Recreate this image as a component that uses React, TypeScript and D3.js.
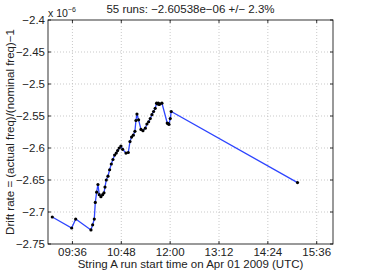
import React from "react";
import * as d3 from "d3";

// minutes after 09:00 on Apr 01 2009
const runMinutes = [6.3, 34.9, 40.8, 63.3, 65.8, 68.2, 69.7, 71.7, 73.6, 75.6, 78, 80.5, 82.5, 84, 85.9, 88.4, 90.8, 93.3, 95.7, 98.2, 100.6, 102.6, 105, 107.5, 110, 114.9, 118.3, 120.8, 123.2, 125.7, 128.1, 129.6, 131.1, 133.5, 137, 139.9, 143.4, 145.8, 148.3, 150.7, 153.2, 155.6, 158, 160, 161.2, 162.5, 163.8, 165, 167.9, 175.7, 177, 178.2, 180.2, 181.6, 367.7];
const driftRate = [-2.7078, -2.725, -2.711, -2.728, -2.72, -2.711, -2.685, -2.669, -2.657, -2.673, -2.676, -2.673, -2.67, -2.661, -2.65, -2.644, -2.634, -2.625, -2.618, -2.611, -2.608, -2.604, -2.6, -2.597, -2.602, -2.608, -2.607, -2.59, -2.583, -2.58, -2.574, -2.557, -2.547, -2.556, -2.571, -2.573, -2.569, -2.5625, -2.559, -2.554, -2.548, -2.543, -2.538, -2.53, -2.531, -2.53, -2.532, -2.531, -2.53, -2.561, -2.562, -2.563, -2.554, -2.543, -2.654];
const yTicks = [-2.4, -2.45, -2.5, -2.55, -2.6, -2.65, -2.7, -2.75];
const xTickMinutes = [36, 108, 180, 252, 324, 396];
const xTickLabels = ["09:36", "10:48", "12:00", "13:12", "14:24", "15:36"];
const titleText = "55 runs: \u22122.60538e\u221206 +/\u2212 2.3%";
const xLabelText = "String A run start time on Apr 01 2009 (UTC)";
const yLabelText = "Drift rate = (actual freq)/(nominal freq)\u22121";

export default function App() {
  const W = 368, H = 277;
  const L = 48, R = 333, T = 20, B = 244;
  const x = d3.scaleLinear().domain([0, 420]).range([L, R]);
  const y = d3.scaleLinear().domain([-2.75, -2.4]).range([B, T]);
  const pts = runMinutes.map((m, i) => [m, driftRate[i]] as [number, number]);
  const line = d3.line<[number, number]>().x(d => x(d[0])).y(d => y(d[1]));
  const font = "'Liberation Sans', Arial, Helvetica, sans-serif";
  const fmt = (v: number) => v.toString().replace("-", "\u2212");
  const fs = 11.5;
  return (
    <svg width={W} height={H} style={{ position: "absolute", left: 0, top: 0, background: "#fff" }} fontFamily={font}>
      <rect x={0} y={0} width={W} height={H} fill="#fff" />
      {/* grid */}
      {xTickMinutes.map((m, i) => (
        <line key={"gx" + i} x1={x(m)} x2={x(m)} y1={T} y2={B} stroke="#bbb" strokeWidth={0.8} strokeDasharray="1,2" />
      ))}
      {yTicks.slice(1, -1).map((v, i) => (
        <line key={"gy" + i} x1={L} x2={R} y1={y(v)} y2={y(v)} stroke="#bbb" strokeWidth={0.8} strokeDasharray="1,2" />
      ))}
      {/* ticks */}
      {xTickMinutes.map((m, i) => (
        <g key={"tx" + i}>
          <line x1={x(m)} x2={x(m)} y1={B} y2={B - 3} stroke="#000" strokeWidth={0.8} />
          <line x1={x(m)} x2={x(m)} y1={T} y2={T + 3} stroke="#000" strokeWidth={0.8} />
          <text x={x(m)} y={B + 12} fontSize={fs} textAnchor="middle" fill="#222">{xTickLabels[i]}</text>
        </g>
      ))}
      {yTicks.map((v, i) => (
        <g key={"ty" + i}>
          <line x1={L} x2={L + 3} y1={y(v)} y2={y(v)} stroke="#000" strokeWidth={0.8} />
          <line x1={R} x2={R - 3} y1={y(v)} y2={y(v)} stroke="#000" strokeWidth={0.8} />
          <text x={L - 3} y={y(v) + 4} fontSize={fs} textAnchor="end" fill="#222">{fmt(v)}</text>
        </g>
      ))}
      <rect x={L} y={T} width={R - L} height={B - T} fill="none" stroke="#000" strokeWidth={0.8} />
      {/* data */}
      <path d={line(pts) || ""} fill="none" stroke="#2e45ff" strokeWidth={1.3} />
      {pts.map((p, i) => (
        <circle key={"p" + i} cx={x(p[0])} cy={y(p[1])} r={1.6} fill="#000" />
      ))}
      {/* texts */}
      <text x={L} y={T - 3} fontSize={10.5} fill="#222">x 10<tspan dy={-5} fontSize={7}>{"\u22126"}</tspan></text>
      <text x={(L + R) / 2} y={13} fontSize={fs} textAnchor="middle" fill="#222">{titleText}</text>
      <text x={(L + R) / 2} y={268} fontSize={fs} textAnchor="middle" fill="#222">{xLabelText}</text>
      <text transform={`translate(14,${(T + B) / 2}) rotate(-90)`} fontSize={fs} textAnchor="middle" fill="#222">{yLabelText}</text>
    </svg>
  );
}
